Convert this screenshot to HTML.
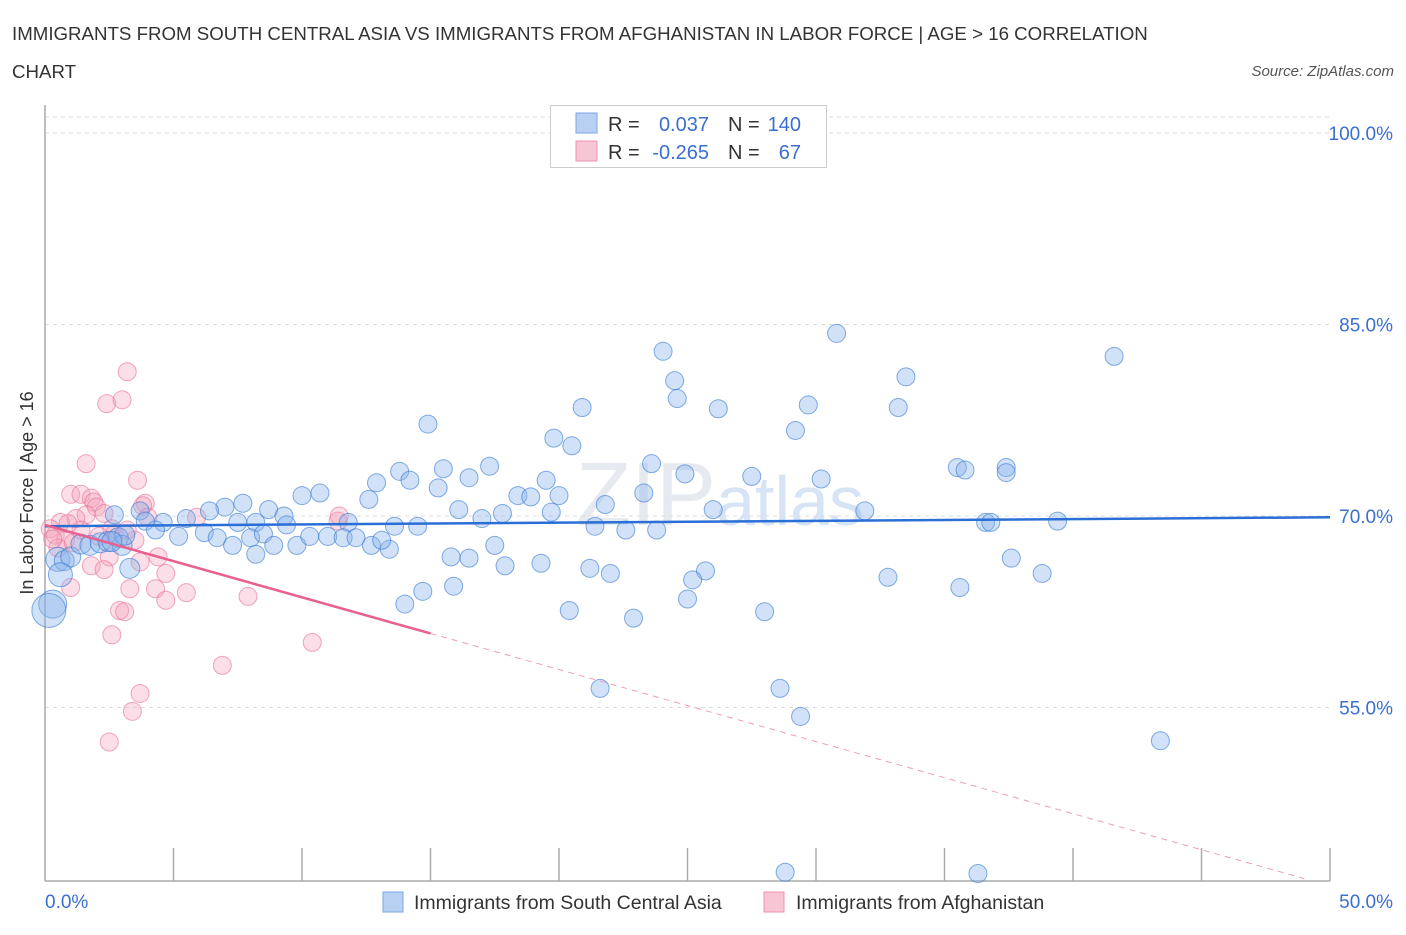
<!DOCTYPE html>
<html><head><meta charset="utf-8"><style>
body{margin:0;background:#fff;font-family:"Liberation Sans",sans-serif;}
svg text{font-family:"Liberation Sans",sans-serif;}
</style></head><body>
<svg id="chart" width="1406" height="930" viewBox="0 0 1406 930">
<text x="12" y="40" font-size="18.7" fill="#333">IMMIGRANTS FROM SOUTH CENTRAL ASIA VS IMMIGRANTS FROM AFGHANISTAN IN LABOR FORCE | AGE &gt; 16 CORRELATION</text>
<text x="12" y="78" font-size="18.7" fill="#333">CHART</text>
<text x="1394" y="76" font-size="15" fill="#555" font-style="italic" text-anchor="end">Source: ZipAtlas.com</text>
<text x="0" y="0" font-size="18" fill="#333" text-anchor="middle" transform="translate(33,493) rotate(-90)">In Labor Force | Age &gt; 16</text>
<text x="720" y="525" font-size="90" fill="#e6eaf0" text-anchor="middle" font-family="Liberation Serif">ZIP<tspan font-size="70" fill="#d6e4f5" font-family="Liberation Sans">atlas</tspan></text>
<g id="grid"></g><g id="axes"></g><g id="pinkpts"></g><g id="bluepts"></g><g id="lines"></g>
<g>
<rect x="550.5" y="105.5" width="276" height="62" fill="#fff" stroke="#ccc"/>
<rect x="576" y="113" width="21" height="20" fill="#b8d1f3" stroke="#7aa6e3"/>
<rect x="576" y="141" width="21" height="20" fill="#f8c5d4" stroke="#ee93b0"/>
<text x="608" y="131" font-size="20" fill="#333">R =</text>
<text x="709" y="131" font-size="20" fill="#3a6fd0" text-anchor="end">0.037</text>
<text x="728" y="131" font-size="20" fill="#333">N =</text>
<text x="801" y="131" font-size="20" fill="#3a6fd0" text-anchor="end">140</text>
<text x="608" y="159" font-size="20" fill="#333">R =</text>
<text x="709" y="159" font-size="20" fill="#3a6fd0" text-anchor="end">-0.265</text>
<text x="728" y="159" font-size="20" fill="#333">N =</text>
<text x="801" y="159" font-size="20" fill="#3a6fd0" text-anchor="end">67</text>
</g>
<g>
<rect x="383" y="892" width="20" height="20" fill="#b8d1f3" stroke="#7aa6e3"/>
<text x="414" y="909" font-size="19.5" fill="#333">Immigrants from South Central Asia</text>
<rect x="764" y="892" width="20" height="20" fill="#f8c5d4" stroke="#ee93b0"/>
<text x="796" y="909" font-size="19.5" fill="#333">Immigrants from Afghanistan</text>
</g>
</svg>
<script>
const yTicks=[100,85,70,55];
const xTickLabels=["0.0%","50.0%"];
const blueX=[24.05,30.8,41.6,33.5,24.5,24.6,20.9,26.2,29.7,33.2,14.9,29.2,19.8,20.5,35.5,37.4,23.6,17.3,15.5,13.8,24.9,27.5,30.2,37.4,35.8,16.5,14.2,12.9,19.5,15.3,10.0,10.7,18.4,18.9,20.0,23.3,12.6,7.7,7.0,6.4,8.7,21.8,26.0,31.9,16.1,17.8,3.7,2.7,5.5,4.6,3.9,9.3,11.8,13.6,14.5,17.0,19.7,21.4,22.6,23.8,36.6,36.8,39.4,8.2,7.5,9.4,4.3,5.2,6.2,6.7,7.3,8.0,8.5,8.9,9.8,10.3,11.0,11.6,12.1,12.7,13.4,13.1,17.5,8.2,15.8,16.5,17.9,19.3,21.2,22.0,25.7,25.2,37.6,38.8,32.8,15.9,14.7,35.6,25.0,14.0,20.4,22.9,28.0,21.6,28.6,29.4,43.4,28.8,36.3,0.5,0.75,1.0,1.4,1.75,2.15,2.45,2.85,3.0,0.6,3.3,0.3,0.15,3.1,2.6];
const blueY=[82.9,84.3,82.5,80.9,80.6,79.2,78.5,78.4,78.7,78.5,77.2,76.7,76.1,75.5,73.8,73.8,74.1,73.9,73.7,73.5,73.3,73.1,72.9,73.4,73.6,73.0,72.8,72.6,72.8,72.2,71.6,71.8,71.6,71.5,71.6,71.8,71.3,71.0,70.7,70.4,70.5,70.9,70.5,70.4,70.5,70.2,70.4,70.1,69.8,69.5,69.6,70.0,69.5,69.2,69.2,69.8,70.3,69.2,68.9,68.9,69.5,69.5,69.6,69.5,69.5,69.3,68.9,68.4,68.7,68.3,67.7,68.3,68.6,67.7,67.7,68.4,68.4,68.3,68.3,67.7,67.4,68.1,67.7,67.0,66.8,66.7,66.1,66.3,65.9,65.5,65.7,65.0,66.7,65.5,65.2,64.5,64.1,64.4,63.5,63.1,62.6,62.0,62.5,56.5,56.5,54.3,52.4,42.1,42.0,66.6,66.5,66.8,67.8,67.7,67.9,68.0,68.3,67.7,65.4,65.9,63.1,62.6,68.5,68.0];
const blueR=[9,9,9,9,9,9,9,9,9,9,9,9,9,9,9,9,9,9,9,9,9,9,9,9,9,9,9,9,9,9,9,9,9,9,9,9,9,9,9,9,9,9,9,9,9,9,9,9,9,9,9,9,9,9,9,9,9,9,9,9,9,9,9,9,9,9,9,9,9,9,9,9,9,9,9,9,9,9,9,9,9,9,9,9,9,9,9,9,9,9,9,9,9,9,9,9,9,9,9,9,9,9,9,9,9,9,9,9,9,12,10,10,10,10,10,10,10,10,12,10,14,17,10,10];
const pinkX=[3.2,2.4,3.0,1.6,3.6,1.0,1.4,1.8,1.9,2.0,2.3,3.9,3.8,5.9,11.4,11.45,1.6,1.2,0.6,0.2,0.4,0.8,1.4,2.6,3.5,0.5,2.5,1.8,4.4,3.7,2.3,4.7,1.0,4.3,3.3,5.5,4.7,7.9,2.9,3.1,2.6,10.4,6.9,3.7,3.4,2.5,2.7,3.2,4.0,0.3,0.9,1.1,2.1];
const pinkY=[81.3,78.8,79.1,74.1,72.8,71.7,71.7,71.4,71.1,70.7,70.2,71.0,70.8,69.9,69.6,70.0,70.1,69.8,69.5,69.0,68.5,68.1,68.9,69.0,68.1,67.5,66.8,66.1,66.8,66.4,65.8,65.5,64.4,64.3,64.3,64.0,63.4,63.7,62.6,62.5,60.7,60.1,58.3,56.1,54.7,52.3,68.6,68.9,69.9,68.2,69.4,67.9,68.4];
const blueLine=[[0,69.2],[50,69.9]];
const pinkLine=[[0,69.3],[15,60.8]];
const pinkDash=[[15,60.8],[49,41.6]];
const NS="http://www.w3.org/2000/svg";
const xs=v=>45+v/50*1285;
const ys=v=>516-(v-70)*12.767;
function mk(tag,attrs,parent){const e=document.createElementNS(NS,tag);for(const k in attrs)e.setAttribute(k,attrs[k]);parent.appendChild(e);return e;}
const grid=document.getElementById('grid'),axes=document.getElementById('axes');
mk('line',{x1:45,x2:1330,y1:117,y2:117,stroke:'#ddd','stroke-dasharray':'4,4'},grid);
yTicks.forEach(t=>{
  const l=mk('line',{x1:45,x2:1330,y1:ys(t),y2:ys(t),stroke:'#ddd','stroke-dasharray':'4,4'},grid);
  
  
  const tx=mk('text',{x:1393,y:ys(t)+7,'font-size':19,fill:'#3a6fd0','text-anchor':'end'},axes);
  tx.textContent=t.toFixed(1)+'%';
  
  
});
const ya=mk('line',{x1:45,x2:45,y1:105,y2:881,stroke:'#aaa','stroke-width':1.5},axes);


const xa=mk('line',{x1:45,x2:1330,y1:881,y2:881,stroke:'#aaa','stroke-width':1.5},axes);


for(let i=1;i<=10;i++){const x=xs(i*5);const t=mk('line',{x1:x,x2:x,y1:848,y2:881,stroke:'#aaa','stroke-width':1.5},axes);

}
const xl0=mk('text',{x:45,y:908,'font-size':19,fill:'#3a6fd0'},axes);xl0.textContent=xTickLabels[0];


const xl1=mk('text',{x:1393,y:908,'font-size':19,fill:'#3a6fd0','text-anchor':'end'},axes);xl1.textContent=xTickLabels[1];


const pg=document.getElementById('pinkpts');
pinkX.forEach((v,i)=>{const c=mk('circle',{cx:xs(v),cy:ys(pinkY[i]),r:9,fill:'rgba(244,160,186,0.35)',stroke:'rgba(232,110,150,0.6)','stroke-width':1},pg);

});
const bg=document.getElementById('bluepts');
blueX.forEach((v,i)=>{const c=mk('circle',{cx:xs(v),cy:ys(blueY[i]),r:blueR[i]||9,fill:'rgba(140,180,235,0.4)',stroke:'rgba(50,120,210,0.6)','stroke-width':1},bg);

});
const lg=document.getElementById('lines');
const bl=mk('line',{x1:xs(blueLine[0][0]),y1:ys(blueLine[0][1]),x2:xs(blueLine[1][0]),y2:ys(blueLine[1][1]),stroke:'#2a6fd6','stroke-width':2.5},lg);


const pl=mk('line',{x1:xs(pinkLine[0][0]),y1:ys(pinkLine[0][1]),x2:xs(pinkLine[1][0]),y2:ys(pinkLine[1][1]),stroke:'#e8608f','stroke-width':2.5},lg);


const pd=mk('line',{x1:xs(pinkDash[0][0]),y1:ys(pinkDash[0][1]),x2:xs(pinkDash[1][0]),y2:ys(pinkDash[1][1]),stroke:'#e8a0b8','stroke-width':1,'stroke-dasharray':'6,5'},lg);


</script>
</body></html>
